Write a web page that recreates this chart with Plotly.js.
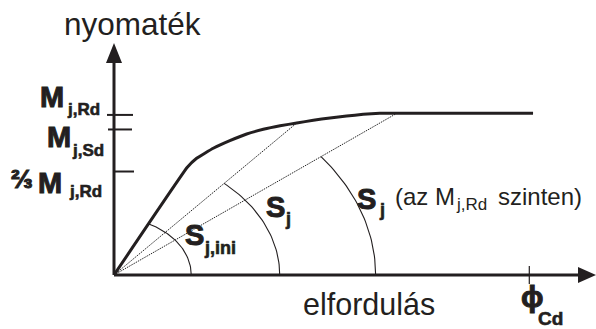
<!DOCTYPE html>
<html>
<head>
<meta charset="utf-8">
<script src="https://cdn.plot.ly/plotly-3.0.1.min.js"></script>
<style>
  html, body { margin: 0; padding: 0; background: #fff; }
  #chart { width: 596px; height: 329px; }
</style>
</head>
<body>
<div id="chart"></div>
<script>
// moment-rotation curve: rotation in units of phi_Cd, moment in units of M_j,Rd
const rotation = [0, 0.1765, 0.199, 0.239, 0.279, 0.3195, 0.3595, 0.400, 0.440, 0.480, 0.520, 0.560, 0.600, 0.640, 0.681, 1.009];
const moment   = [0, 0.666, 0.722, 0.784, 0.831, 0.872, 0.901, 0.923, 0.940, 0.957, 0.971, 0.983, 0.994, 1.0, 1.0, 1.0];

// secant stiffness lines run from the origin to these points of the curve
const secantRotation = [0.440, 0.681];
const secantMoment   = [0.940, 1.0];

// angle arcs for S_j,ini, S_j and S_j (at M_j,Rd); radius along the rotation axis
const arcRadius = [0.186, 0.399, 0.630];
const arcAspect = 1.9;

// marks on the axes
const momentTicks = [0.99, 0.90, 0.64];
const momentTickSub = ['j,Rd', 'j,Sd', 'j,Rd'];
const rotationTick = 1.0;

const INK = '#231f20';
const FONT = 'Liberation Sans, Arial, sans-serif';
const W = 596, H = 329;
const MARGIN = { l: 114, r: 18, t: 63, b: 54, pad: 0 };
const pw = W - MARGIN.l - MARGIN.r, ph = H - MARGIN.t - MARGIN.b;
const XSCALE = 415.3, YSCALE = 161.7;   // pixels per unit

// lines the arcs end on: initial stiffness, then the two secants
const arcEnds = [[rotation[1], moment[1]], [secantRotation[0], secantMoment[0]], [secantRotation[1], secantMoment[1]]];

const traces = [];

secantRotation.forEach((r, i) => {
  traces.push({
    x: [0, r], y: [0, secantMoment[i]], mode: 'lines', type: 'scatter',
    line: { color: '#262626', width: 1, dash: '1.5px,1px' }, hoverinfo: 'skip'
  });
});

arcRadius.forEach((rad, i) => {
  const end = Math.atan2(arcEnds[i][1] / arcAspect, arcEnds[i][0]);
  const xs = [], ys = [];
  for (let k = 0; k <= 40; k++) {
    const t = end * k / 40;
    xs.push(rad * Math.cos(t));
    ys.push(arcAspect * rad * Math.sin(t));
  }
  traces.push({ x: xs, y: ys, mode: 'lines', type: 'scatter', line: { color: INK, width: 1.1 }, hoverinfo: 'skip' });
});

traces.push({
  x: rotation, y: moment, mode: 'lines', type: 'scatter',
  line: { color: INK, width: 3, shape: 'spline', smoothing: 0.3 }, hoverinfo: 'skip'
});

function px(x) { return (x - MARGIN.l) / pw; }
function py(y) { return (H - MARGIN.b - y) / ph; }
// text placed by left/center x and baseline y, in pixels; heavy = bold with a thin outline
function txt(text, x, base, size, heavy, anchor) {
  const body = heavy
    ? '<b><span style="stroke:' + INK + ';stroke-width:' + (size > 22 ? 1 : 0.6) + 'px">' + text + '</span></b>'
    : text;
  return {
    xref: 'paper', yref: 'paper', x: px(x), y: py(base - 0.3465 * size),
    xanchor: anchor || 'left', yanchor: 'middle', showarrow: false,
    borderpad: 0, borderwidth: 0, text: body,
    font: { family: FONT, size: size, color: INK }
  };
}

const annotations = [
  txt('nyomaték', 132.5, 34.5, 31.5, false, 'center'),
  txt('elfordulás', 369, 314.3, 30.5, false, 'center'),

  txt('M', 39.5, 107.3, 29, true), txt(momentTickSub[0], 67, 115, 17, true),
  txt('M', 46.5, 146.7, 29, true), txt(momentTickSub[1], 72, 156, 17, true),
  txt('⅔', 11, 188.5, 26, true),
  txt('M', 38, 192.7, 29, true), txt(momentTickSub[2], 68.5, 197.3, 17, true),

  txt('S', 184.5, 245, 29, true), txt('j,ini', 204, 254, 18, true),
  txt('S', 266, 216.7, 29, true), txt('j', 285, 225, 18, true),
  txt('S', 357, 209, 29, true), txt('j', 378.5, 216, 18, true),
  txt('(az M', 395, 205, 24, false), txt('j,Rd', 455.5, 210.5, 17, false),
  txt('szinten)', 498, 205, 24, false),

  txt('ϕ', 521, 307, 30, true), txt('Cd', 538, 325, 19, true)
];

const tickReach = [[-7, 19], [-6, 18], [-1, 20]];
const shapes = [
  // axes with arrowheads
  { type: 'line', xref: 'paper', yref: 'paper', x0: 0, x1: 0, y0: 0, y1: 1, line: { color: INK, width: 3 } },
  { type: 'line', xref: 'paper', yref: 'paper', x0: 0, x1: 1, y0: 0, y1: 0, line: { color: INK, width: 3 } },
  { type: 'path', xref: 'paper', yref: 'paper', xsizemode: 'pixel', ysizemode: 'pixel', xanchor: 0, yanchor: 1,
    path: 'M-8,0 L8,0 L0,20 Z', fillcolor: INK, line: { width: 0 } },
  { type: 'path', xref: 'paper', yref: 'paper', xsizemode: 'pixel', ysizemode: 'pixel', xanchor: 1, yanchor: 0,
    path: 'M0,-8 L0,8 L18,0 Z', fillcolor: INK, line: { width: 0 } },
  // phi_Cd mark
  { type: 'line', xref: 'x', yref: 'paper', ysizemode: 'pixel', yanchor: 0, x0: rotationTick, x1: rotationTick,
    y0: -9, y1: 9, line: { color: INK, width: 1.2 } }
];
momentTicks.forEach((m, i) => {
  shapes.push({ type: 'line', xref: 'paper', yref: 'y', xsizemode: 'pixel', xanchor: 0,
    x0: tickReach[i][0], x1: tickReach[i][1], y0: m, y1: m, line: { color: INK, width: 2 } });
});

const axisOff = { visible: false, showgrid: false, zeroline: false, fixedrange: true };
const layout = {
  width: W, height: H, margin: MARGIN, showlegend: false,
  paper_bgcolor: '#fff', plot_bgcolor: '#fff',
  xaxis: Object.assign({ range: [0, pw / XSCALE] }, axisOff),
  yaxis: Object.assign({ range: [0, ph / YSCALE] }, axisOff),
  annotations: annotations, shapes: shapes
};

Plotly.newPlot('chart', traces, layout, { staticPlot: true, displayModeBar: false });
</script>
</body>
</html>
